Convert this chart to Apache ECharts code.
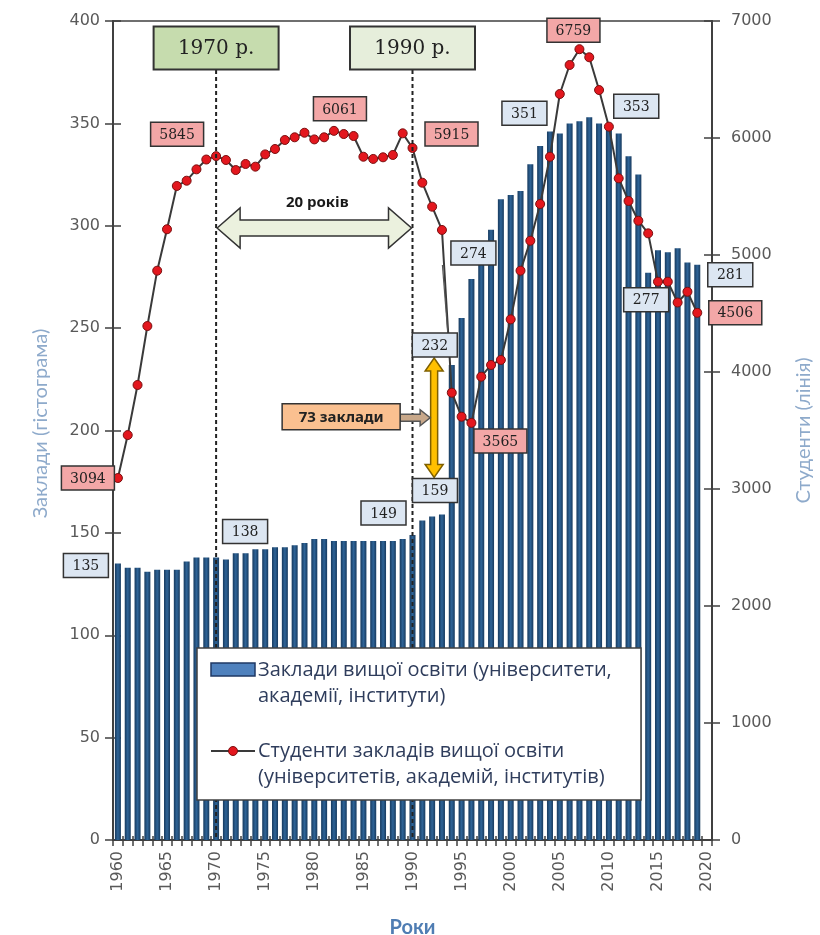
<!DOCTYPE html>
<html><head><meta charset="utf-8">
<script src="https://cdn.jsdelivr.net/npm/echarts@6/dist/echarts.min.js"></script>
<style>html,body{margin:0;padding:0;background:#fff}#main{width:820px;height:935px}</style>
</head><body><div id="main"></div>
<script>
const years = ['1960','1961','1962','1963','1964','1965','1966','1967','1968','1969',
  '1970','1971','1972','1973','1974','1975','1976','1977','1978','1979',
  '1980','1981','1982','1983','1984','1985','1986','1987','1988','1989',
  '1990','1991','1992','1993','1994','1995','1996','1997','1998','1999',
  '2000','2001','2002','2003','2004','2005','2006','2007','2008','2009',
  '2010','2011','2012','2013','2014','2015','2016','2017','2018','2019','2020'];
const institutions = [135,133,133,131,132,132,132,136,138,138,
  138,137,140,140,142,142,143,143,144,145,
  147,147,146,146,146,146,146,146,146,147,
  149,156,158,159,232,255,274,281,298,313,
  315,317,330,339,346,345,350,351,353,350,
  349,345,334,325,277,288,287,289,282,281,null];
const students = [3094,3461,3889,4393,4866,5220,5590,5635,5732,5816,
  5845,5812,5726,5778,5755,5860,5906,5983,6006,6045,
  5988,6006,6061,6034,6017,5840,5821,5835,5855,6040,
  5915,5618,5413,5214,3823,3618,3565,3960,4060,4103,
  4450,4866,5122,5436,5840,6376,6624,6759,6690,6410,
  6097,5655,5462,5293,5185,4772,4772,4594,4686,4506,null];
const leftTicks = [0,50,100,150,200,250,300,350,400];
const rightTicks = [0,1000,2000,3000,4000,5000,6000,7000];
const institutionLabelYears = ['1960','1970','1990','1993','1994','1996','2007','2008','2014','2019'];
const studentLabelYears = ['1960','1970','1982','1990','1996','2007','2019'];
const periodYears = ['1970','1990'];
const barName = 'Заклади вищої освіти (університети,\nакадемії, інститути)';
const lineName = 'Студенти закладів вищої освіти\n(університетів, академій, інститутів)';

(function(){
const AX = '#404040';
const chart = echarts.init(document.getElementById('main'));
const tickFont = {fontFamily:'DejaVu Sans', fontSize:16, color:'#595959', formatter:function(v){return String(v);}};
chart.setOption({
  animation:false,
  grid:{left:113,right:108,top:21,bottom:95,outerBoundsMode:'none',containLabel:false,show:true,borderColor:AX,borderWidth:1.5,backgroundColor:'#fff'},
  xAxis:[{
    type:'category', data:years, boundaryGap:true,
    axisLine:{lineStyle:{color:AX,width:2}},
    axisTick:{show:true,interval:0,length:6,lineStyle:{color:AX,width:1.5}},
    axisLabel:{interval:4,rotate:90,margin:11,fontFamily:'DejaVu Sans',fontSize:16,color:'#595959'},
    name:'Роки', nameLocation:'middle', nameGap:78,
    nameTextStyle:{fontFamily:'Lato',fontSize:20,fontWeight:'bold',color:'#4f7db3'}
  },{
    type:'category', data:years, boundaryGap:true, position:'bottom',
    axisLine:{show:false}, axisLabel:{show:false},
    axisTick:{show:true,inside:true,interval:0,length:4,lineStyle:{color:AX,width:1.5}}
  }],
  yAxis:[{
    type:'value', min:leftTicks[0], max:leftTicks[leftTicks.length-1], interval:leftTicks[1]-leftTicks[0],
    position:'left', splitLine:{show:false},
    axisLine:{show:true,lineStyle:{color:AX,width:2}},
    axisTick:{show:true,length:8,lineStyle:{color:AX,width:1.5}},
    axisLabel:Object.assign({margin:13},tickFont),
    name:'Заклади (гістограма)', nameLocation:'middle', nameGap:62, nameRotate:90,
    nameTextStyle:{fontFamily:'Lato',fontSize:20,color:'#8eaacb',padding:[0,0,0,14]}
  },{
    type:'value', min:rightTicks[0], max:rightTicks[rightTicks.length-1], interval:rightTicks[1]-rightTicks[0],
    position:'right', splitLine:{show:false},
    axisLine:{show:true,lineStyle:{color:AX,width:2}},
    axisTick:{show:true,length:8,lineStyle:{color:AX,width:1.5}},
    axisLabel:Object.assign({margin:19},tickFont),
    name:'Студенти (лінія)', nameLocation:'middle', nameGap:82, nameRotate:90,
    nameTextStyle:{fontFamily:'Lato',fontSize:20,color:'#8eaacb'}
  },{
    type:'value', min:0, max:400, interval:50, position:'left',
    splitLine:{show:false}, axisLine:{show:false}, axisLabel:{show:false},
    axisTick:{show:true,inside:true,length:8,lineStyle:{color:AX,width:1.5}}
  },{
    type:'value', min:0, max:7000, interval:1000, position:'right',
    splitLine:{show:false}, axisLine:{show:false}, axisLabel:{show:false},
    axisTick:{show:true,inside:true,length:8,lineStyle:{color:AX,width:1.5}}
  }],
  series:[{
    name:barName, type:'bar', xAxisIndex:0, yAxisIndex:0, data:institutions, barWidth:6,
    itemStyle:{color:new echarts.graphic.LinearGradient(0,0,1,0,[
      {offset:0,color:'#173a5e'},{offset:0.5,color:'#2f6497'},{offset:1,color:'#173a5e'}])}
  },{
    name:lineName, type:'line', xAxisIndex:0, yAxisIndex:1, data:students,
    symbol:'circle', symbolSize:9, showAllSymbol:true, z:5,
    lineStyle:{color:'#3a3a3a',width:2},
    itemStyle:{color:'#e3171e',borderColor:'#7a1010',borderWidth:1}
  }]
});

function P(year, v, yi){ return chart.convertToPixel({xAxisIndex:0,yAxisIndex:yi},[year,v]); }
const G = [];
function box(cx, cy, w, h, text, fill, font, lw){
  G.push({type:'rect', z:100, shape:{x:cx-w/2,y:cy-h/2,width:w,height:h}, style:{fill:fill,stroke:'#333',lineWidth:lw||1.5}});
  G.push({type:'text', z:101, style:{text:text, x:cx, y:cy+1, align:'center', verticalAlign:'middle', textAlign:'center', textVerticalAlign:'middle', font:font, fill:'#222'}});
  return {cx:cx,cy:cy,w:w,h:h};
}
function hArrow(x1,x2,yc,sh,hh,hl,fill,stroke,both){
  const pts = both ? [[x1,yc],[x1+hl,yc-hh],[x1+hl,yc-sh],[x2-hl,yc-sh],[x2-hl,yc-hh],[x2,yc],[x2-hl,yc+hh],[x2-hl,yc+sh],[x1+hl,yc+sh],[x1+hl,yc+hh]]
                   : [[x1,yc-sh],[x2-hl,yc-sh],[x2-hl,yc-hh],[x2,yc],[x2-hl,yc+hh],[x2-hl,yc+sh],[x1,yc+sh]];
  G.push({type:'polygon', z:90, shape:{points:pts}, style:{fill:fill,stroke:stroke,lineWidth:1.5}});
}
function vArrow(xc,y1,y2,sw,hw,hl,fill,stroke){
  const pts=[[xc,y1],[xc+hw,y1+hl],[xc+sw,y1+hl],[xc+sw,y2-hl],[xc+hw,y2-hl],[xc,y2],[xc-hw,y2-hl],[xc-sw,y2-hl],[xc-sw,y1+hl],[xc-hw,y1+hl]];
  G.push({type:'polygon', z:90, shape:{points:pts}, style:{fill:fill,stroke:stroke,lineWidth:1.5}});
}

const gTop = P('1970',400,0)[1], gBottom = P('1970',0,0)[1];
const periodFill = ['#c6dcae','#e6eedb'];
periodYears.forEach((y,i)=>{
  const x = P(y,0,0)[0];
  G.push({type:'line', z:80, shape:{x1:x,y1:gTop+49,x2:x,y2:gBottom}, style:{stroke:'#222',lineWidth:2,lineDash:[4,3]}});
  box(x, gTop+27, 125, 43, y+' р.', periodFill[i], '20px "DejaVu Serif"', 2);
});
const xa = P(periodYears[0],0,0)[0], xb = P(periodYears[1],0,0)[0];
const ya = gTop+207;
hArrow(xa+1, xb-1, ya, 8, 20, 23, '#ebf1de', '#333', true);
G.push({type:'text', z:100, style:{text:(+periodYears[1]-+periodYears[0])+' років', x:(xa+xb)/2+3, y:ya-25, align:'center', verticalAlign:'middle', textAlign:'center', textVerticalAlign:'middle', font:'bold 15px "Noto Sans"', fill:'#1a1a1a'}});

const instOff = {'1960':[-32,2],'1970':[29,-26],'1990':[-29,-22],'1993':[-7,-24],'1994':[-17,-20],'1996':[2,-26],'2007':[-55,-8],'2008':[47,-11],'2014':[-2,27],'2019':[33,10]};
const studOff = {'1960':[-30,0],'1970':[-39,-22],'1982':[6,-22],'1990':[39,-14],'1996':[29,18],'2007':[-6,-19],'2019':[38,0]};
const boxes = {};
institutionLabelYears.forEach(y=>{
  const i = years.indexOf(y), v = institutions[i];
  const p = P(y,v,0), o = instOff[y];
  boxes[y] = box(p[0]+o[0], p[1]+o[1], 45, 24, String(v), '#dce6f2', '14px "DejaVu Serif"');
});
studentLabelYears.forEach(y=>{
  const i = years.indexOf(y), v = students[i];
  const p = P(y,v,1), o = studOff[y];
  box(p[0]+o[0], p[1]+o[1], 53, 24, String(v), '#f3a7a7', '14px "DejaVu Serif"');
});
const b274 = boxes['1996'], b232 = boxes['1994'], b159 = boxes['1993'];
G.push({type:'line', z:85, shape:{x1:b274.cx-31,y1:b274.cy+b274.h/2,x2:b232.cx+13,y2:b232.cy-b232.h/2}, style:{stroke:'#555',lineWidth:1.2}});
const yx = P('1992',0,0)[0]+2;
const yt = b232.cy+b232.h/2+1, yb = b159.cy-b159.h/2-1;
vArrow(yx, yt, yb, 3.5, 9, 13, '#ffc000', '#7f6000');
const ym = (yt+yb)/2;
const diff = institutions[years.indexOf('1994')]-institutions[years.indexOf('1993')];
hArrow(yx-93+59, yx-4, ym, 3.5, 8, 10, '#c8a88a', '#555', false);
box(yx-93, ym-1, 118, 26, diff+' заклади', '#fac090', 'bold 15px "Noto Sans"');

const LX=197, LY=648;
G.push({type:'rect', z:95, shape:{x:LX,y:LY,width:444,height:152}, style:{fill:'#fff',stroke:'#404040',lineWidth:1.5}});
G.push({type:'rect', z:96, shape:{x:LX+14,y:LY+15,width:44,height:13}, style:{fill:'#4f81bd',stroke:'#1f3864',lineWidth:1.5}});
G.push({type:'line', z:96, shape:{x1:LX+14,y1:LY+103,x2:LX+58,y2:LY+103}, style:{stroke:'#3a3a3a',lineWidth:2}});
G.push({type:'circle', z:97, shape:{cx:LX+36,cy:LY+103,r:4.5}, style:{fill:'#e3171e',stroke:'#7a1010',lineWidth:1}});
const legLines = barName.split('\n').concat(lineName.split('\n'));
const legY = [LY+22, LY+48, LY+103, LY+129];
legLines.forEach((t,i)=>{
  G.push({type:'text', z:97, style:{text:t, x:LX+61, y:legY[i], align:'left', verticalAlign:'middle', textAlign:'left', textVerticalAlign:'middle', font:'20px "Open Sans"', fill:'#2f3d5c'}});
});
chart.setOption({graphic:G});
})();
</script></body></html>
